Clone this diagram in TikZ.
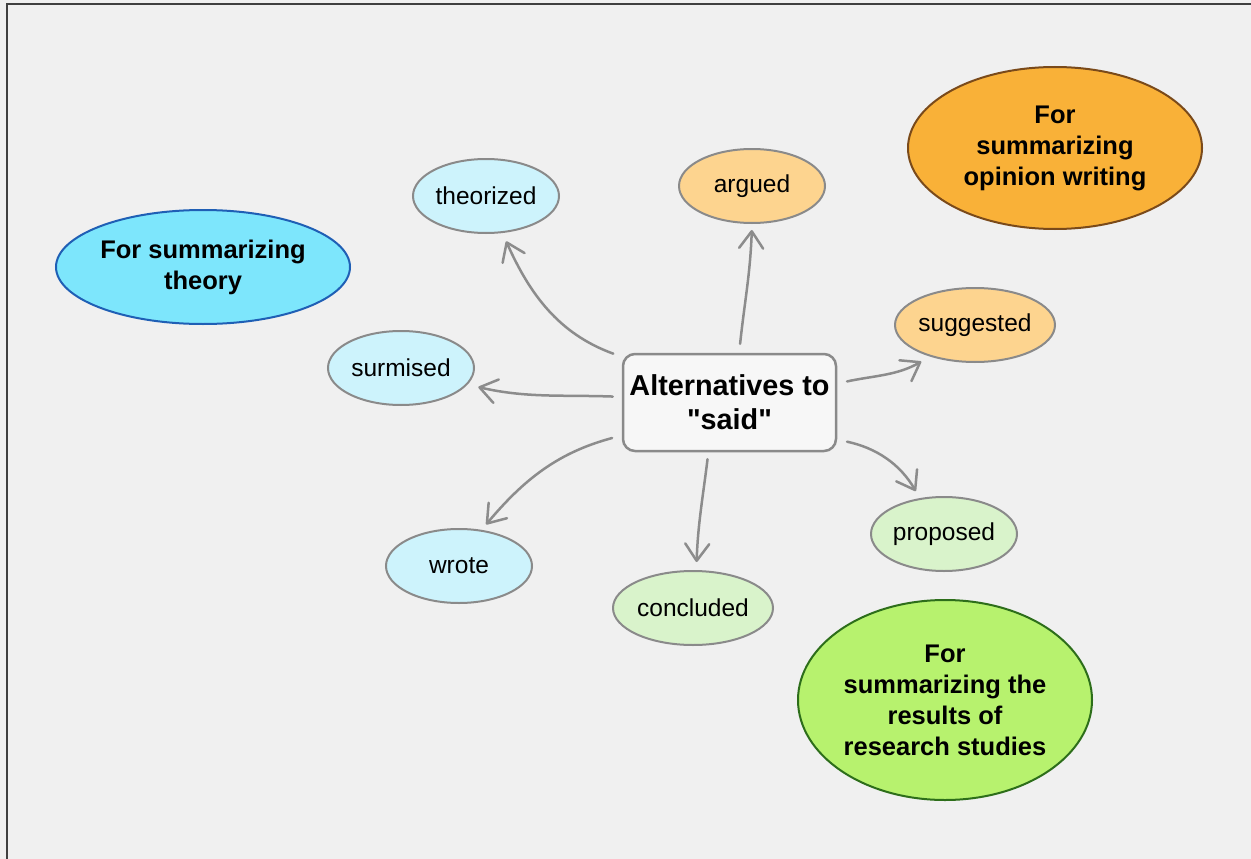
\documentclass[tikz,border=0pt]{standalone}
\usepackage{fontspec}
\setmainfont{Liberation Sans}[Ligatures=TeXOff]
\usetikzlibrary{shapes.geometric,arrows.meta}

\definecolor{bgcol}{RGB}{240,240,240}
\definecolor{framecol}{RGB}{64,64,64}
\definecolor{edgecol}{RGB}{138,138,138}
\definecolor{linkcol}{RGB}{140,140,140}
\definecolor{boxfill}{RGB}{247,247,247}
\definecolor{cyanlite}{RGB}{205,243,252}
\definecolor{orangelite}{RGB}{253,212,143}
\definecolor{greenlite}{RGB}{217,243,203}
\definecolor{cyanbig}{RGB}{125,230,252}
\definecolor{cyanedge}{RGB}{31,95,181}
\definecolor{orangebig}{RGB}{249,177,56}
\definecolor{orangeedge}{RGB}{122,74,26}
\definecolor{greenbig}{RGB}{183,242,110}
\definecolor{greenedge}{RGB}{45,110,26}

\tikzset{
  word/.style={ellipse, draw=edgecol, line width=2pt, inner sep=0pt,
    minimum width=146pt, minimum height=74pt,
    font=\fontsize{24.5}{28}\selectfont},
  category/.style={ellipse, line width=2pt, inner sep=0pt, align=center,
    font=\fontsize{25.5}{31}\selectfont\bfseries},
  centerbox/.style={rectangle, rounded corners=12pt, draw=edgecol, fill=boxfill,
    line width=2.5pt, minimum width=213pt, minimum height=97pt, align=center,
    font=\fontsize{28.8}{34}\selectfont\bfseries},
  link/.style={draw=linkcol, line width=2.5pt, line cap=round,
    -{Straight Barb[length=17pt,width=24pt,round]}}
}

\begin{document}
\begin{tikzpicture}[x=1pt,y=1pt]
  % page and frame
  \fill[bgcol] (0,0) rectangle (1251,-859);
  \useasboundingbox (0,0) rectangle (1251,-859);
  \draw[framecol, line width=2pt] (6.5,-859) -- (6.5,-4.5) -- (1251,-4.5);

  % central topic
  \node[centerbox] (c) at (729.5,-402.5) {Alternatives to\\"said"};

  % word ellipses
  \node[word, fill=cyanlite] (theorized) at (486,-196) {theorized};
  \node[word, fill=orangelite] (argued) at (752,-186) {argued};
  \node[word, fill=orangelite, minimum width=160pt] (suggested) at (975,-325) {suggested};
  \node[word, fill=cyanlite] (surmised) at (401,-368) {surmised};
  \node[word, fill=cyanlite] (wrote) at (459,-566) {wrote};
  \node[word, fill=greenlite, minimum width=160pt] (concluded) at (693,-608) {concluded};
  \node[word, fill=greenlite] (proposed) at (944,-534) {proposed};

  % category ellipses
  \node[category, fill=cyanbig, draw=cyanedge, minimum width=294pt, minimum height=114pt]
    (theory) at (203,-267) {For summarizing\\theory};
  \node[category, fill=orangebig, draw=orangeedge, minimum width=294pt, minimum height=162pt]
    (opinion) at (1055,-148) {For\\summarizing\\opinion writing};
  \node[category, fill=greenbig, draw=greenedge, minimum width=294pt, minimum height=200pt]
    (research) at (945,-700) {For\\summarizing the\\results of\\research studies};

  % connectors
  \draw[link, shorten <=9pt, shorten >=9pt] (c.157) to[out=160, in=-66] (theorized.-66);
  \draw[link, shorten <=9pt, shorten >=6pt] (c.79) to[out=84, in=-92] (argued.-90);
  \draw[link, shorten <=10pt, shorten >=10pt] (c.10) to[out=12, in=210] (suggested.215);
  \draw[link, shorten <=9pt, shorten >=11pt] (c.177) to[out=178, in=-13] (surmised.-14);
  \draw[link, shorten <=10pt, shorten >=8pt] (c.-19) to[out=-12, in=120] (proposed.124);
  \draw[link, shorten <=7pt, shorten >=8pt] (c.247) to[out=-97, in=88] (concluded.85);
  \draw[link, shorten <=10pt, shorten >=7pt] (c.197) to[out=195, in=50] (wrote.58);
\end{tikzpicture}
\end{document}
